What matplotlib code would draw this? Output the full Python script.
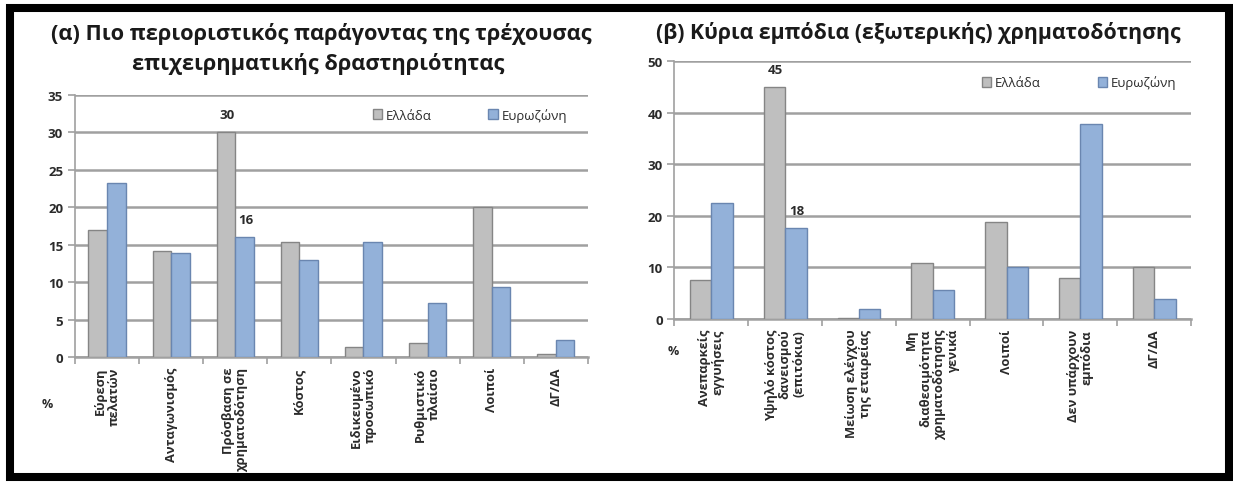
#!/usr/bin/env python3
import matplotlib as mpl
import matplotlib.pyplot as plt
import numpy as np
from matplotlib.patches import Rectangle

mpl.use("Agg")

# panel (a) data
cats_a = [
    "Εύρεση\nπελατών",
    "Ανταγωνισμός",
    "Πρόσβαση σε\nχρηματοδότηση",
    "Κόστος",
    "Ειδικευμένο\nπροσωπικό",
    "Ρυθμιστικό\nπλαίσιο",
    "Λοιποί",
    "ΔΓ/ΔΑ",
]
greece_a = [17.0, 14.1, 30.0, 15.4, 1.3, 1.8, 20.0, 0.4]
euro_a = [23.3, 13.9, 16.0, 12.9, 15.4, 7.2, 9.3, 2.3]
labels_a = {(2, 0): "30", (2, 1): "16"}

# panel (b) data
cats_b = [
    "Ανεπαρκείς\nεγγυήσεις",
    "Υψηλό κόστος\nδανεισμού\n(επιτόκια)",
    "Μείωση ελέγχου\nτης εταιρείας",
    "Μη\nδιαθεσιμότητα\nχρηματοδότησης\nγενικά",
    "Λοιποί",
    "Δεν υπάρχουν\nεμπόδια",
    "ΔΓ/ΔΑ",
]
greece_b = [7.6, 45.0, 0.2, 10.8, 18.9, 7.9, 10.0]
euro_b = [22.5, 17.7, 2.0, 5.7, 10.0, 37.9, 3.9]
labels_b = {(1, 0): "45", (1, 1): "18"}

series_names = ["Ελλάδα", "Ευρωζώνη"]

plt.rcParams["font.family"] = ["Open Sans", "DejaVu Sans"]

GRAY = "#bfbfbf"
GRAY_EDGE = "#858585"
BLUE = "#93b1d9"
BLUE_EDGE = "#6a86b0"
GRID = "#a0a0a0"
TXT = "#2b2b2b"

fig = plt.figure(figsize=(12.33, 4.85), dpi=100)


def draw_panel(ax, cats, gr, eu, ymax, ystep, labels, leg_xy):
    """Draw one grouped bar panel in Excel-like style"""
    x = np.arange(len(cats))
    w = 0.29
    ax.bar(x - w / 2, gr, w, color=GRAY, edgecolor=GRAY_EDGE,
           linewidth=1.0, label=series_names[0], zorder=3)
    ax.bar(x + w / 2, eu, w, color=BLUE, edgecolor=BLUE_EDGE,
           linewidth=1.0, label=series_names[1], zorder=3)

    # data labels above selected bars
    for (idx, series), txt in labels.items():
        vals = gr if series == 0 else eu
        xx = idx - w / 2 if series == 0 else idx + w / 2
        ax.annotate(txt, (xx, vals[idx]), xytext=(1, 8),
                    textcoords="offset points", ha="center", va="bottom",
                    fontsize=9.5, fontweight="bold", color=TXT)

    ax.set_xlim(-0.5, len(cats) - 0.5)
    ax.set_ylim(0, ymax)
    ax.set_yticks(np.arange(0, ymax + 0.1, ystep))
    ax.yaxis.grid(True, color=GRID, linewidth=1.8, zorder=0)
    ax.set_axisbelow(True)

    ax.set_xticks(x)
    ax.set_xticklabels(cats, rotation=90, ha="center", va="top",
                       multialignment="right", fontsize=9.3,
                       fontweight="bold", color=TXT, linespacing=1.1)
    ax.set_xticks(np.arange(-0.5, len(cats)), minor=True)
    ax.tick_params(axis="x", which="major", length=0, pad=7)
    ax.tick_params(axis="x", which="minor", length=5, color=GRID, width=1.2)
    ax.tick_params(axis="y", length=5, color=GRID, width=1.2,
                   labelsize=9.5, labelcolor=TXT)
    for lab in ax.get_yticklabels():
        lab.set_fontweight("bold")

    for s in ["top", "right"]:
        ax.spines[s].set_visible(False)
    ax.spines["left"].set_color(GRID)
    ax.spines["left"].set_linewidth(1.2)
    ax.spines["bottom"].set_color(GRID)
    ax.spines["bottom"].set_linewidth(1.8)

    ax.legend(loc="center left", bbox_to_anchor=leg_xy, ncol=2,
              frameon=False, fontsize=9.5, handlelength=0.7, handleheight=0.8,
              handletextpad=0.3, columnspacing=4.3, borderaxespad=0,
              labelcolor=TXT)


ax1 = fig.add_axes([0.0608, 0.262, 0.416, 0.540])
ax2 = fig.add_axes([0.547, 0.340, 0.419, 0.532])

draw_panel(ax1, cats_a, greece_a, euro_a, 35, 5, labels_a, (0.57, 0.924))
draw_panel(ax2, cats_b, greece_b, euro_b, 50, 10, labels_b, (0.585, 0.918))

# titles
fig.text(321 / 1233, 1 - 34 / 485,
         "(α) Πιο περιοριστικός παράγοντας της τρέχουσας",
         ha="center", va="center", fontsize=15.7, fontweight="bold",
         color="#1a1a1a")
fig.text(318 / 1233, 1 - 64 / 485,
         "επιχειρηματικής δραστηριότητας",
         ha="center", va="center", fontsize=15.7, fontweight="bold",
         color="#1a1a1a")
fig.text(918 / 1233, 1 - 33 / 485,
         "(β) Κύρια εμπόδια (εξωτερικής) χρηματοδότησης",
         ha="center", va="center", fontsize=15.3, fontweight="bold",
         color="#1a1a1a")

# "%" markers under the y axes
fig.text(47 / 1233, 1 - 405 / 485, "%", ha="center", va="center",
         fontsize=9, fontweight="bold", color=TXT)
fig.text(673 / 1233, 1 - 352 / 485, "%", ha="center", va="center",
         fontsize=9, fontweight="bold", color=TXT)

# black frame around the whole picture
fig.add_artist(Rectangle((10 / 1233, 7 / 485), 1219 / 1233, 469 / 485,
                         transform=fig.transFigure, fill=False,
                         edgecolor="black", linewidth=5.8))

plt.savefig("out.png", dpi=100)
